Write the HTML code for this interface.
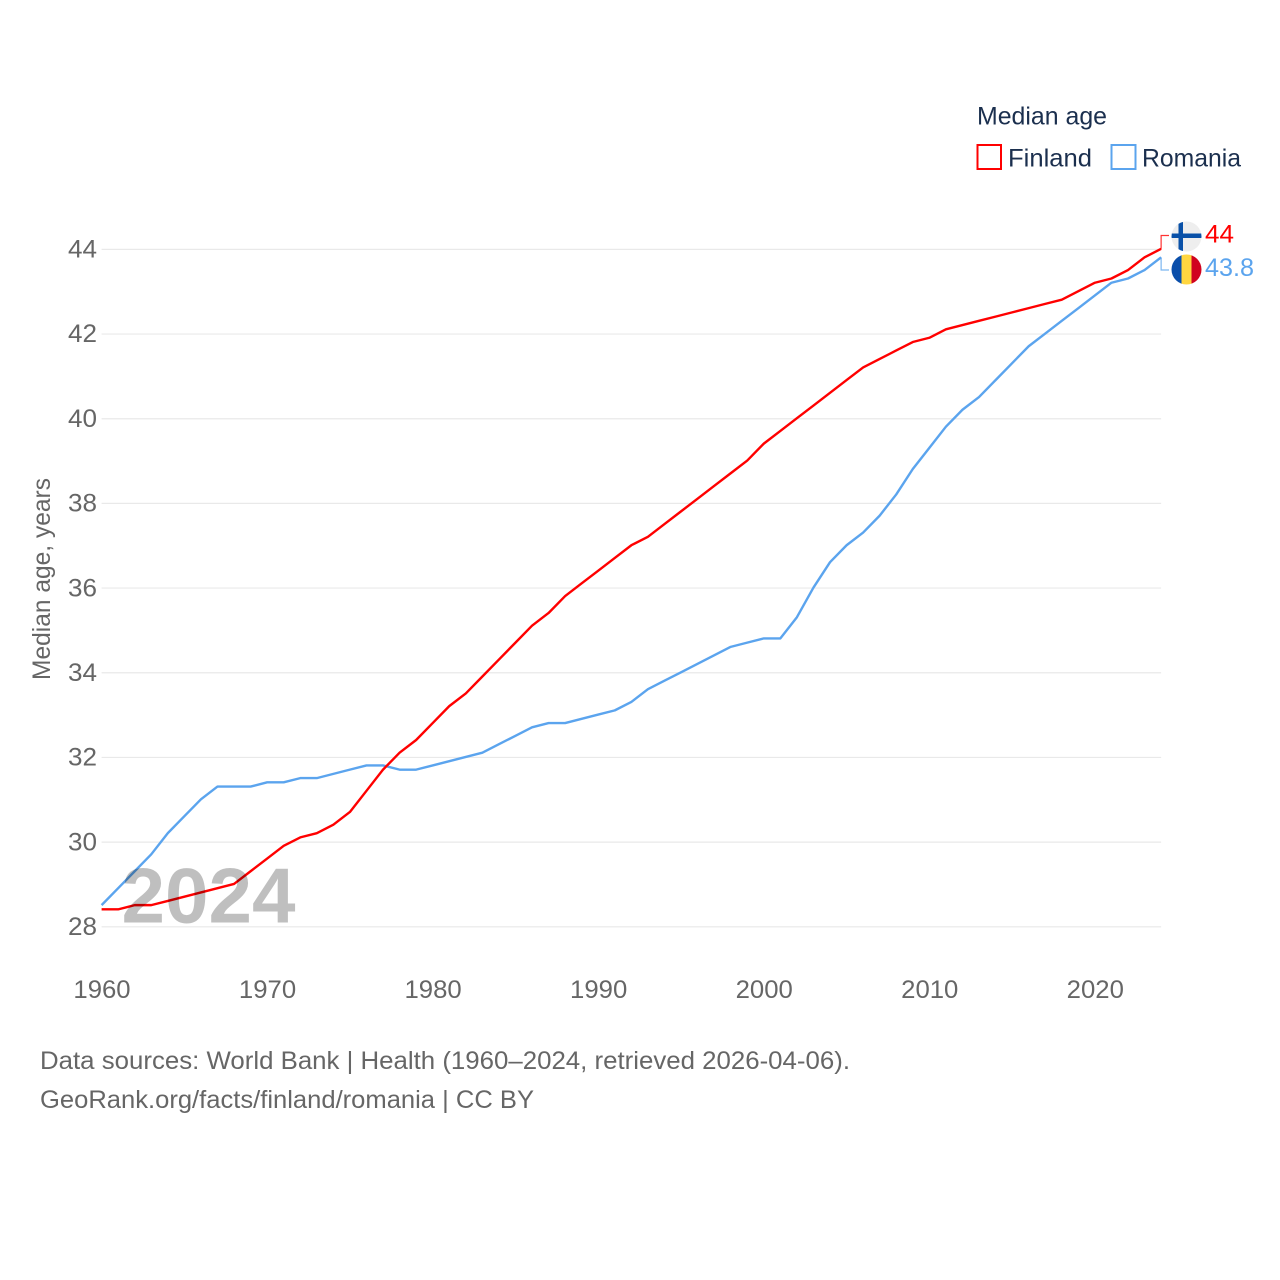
<!DOCTYPE html>
<html lang="en">
<head>
<meta charset="utf-8">
<title>Median age: Finland vs Romania</title>
<style>
html,body{margin:0;padding:0;background:#fff;}
svg{display:block;}
text{font-family:"Liberation Sans",sans-serif;}
</style>
</head>
<body>
<svg id="chart" xmlns="http://www.w3.org/2000/svg" width="1280" height="1280" viewBox="0 0 1280 1280">
  <rect x="0" y="0" width="1280" height="1280" fill="#fff"/>
  <g id="grid"></g>
  <g id="y-ticks"></g>
  <g id="x-ticks"></g>
  <text transform="translate(50,680) rotate(-90)" font-size="25" fill="#666" textLength="202" lengthAdjust="spacingAndGlyphs">Median age, years</text>
  <g id="series"></g>
  <text x="121.5" y="922.5" font-size="78" font-weight="700" fill="#000" fill-opacity="0.25" textLength="174" lengthAdjust="spacingAndGlyphs">2024</text>
  <g id="end-labels"></g>

  <defs>
    <clipPath id="clip-fi"><circle cx="1186.5" cy="236.5" r="15"/></clipPath>
    <clipPath id="clip-ro"><circle cx="1186.5" cy="269.5" r="15"/></clipPath>
  </defs>
  <g clip-path="url(#clip-fi)">
    <rect x="1171" y="221" width="31" height="31" fill="#eeeeee"/>
    <rect x="1178.5" y="221" width="4.5" height="31" fill="#0a51a8"/>
    <rect x="1171" y="233.5" width="31" height="4.5" fill="#0a51a8"/>
  </g>
  <g clip-path="url(#clip-ro)">
    <rect x="1171" y="254" width="11" height="31" fill="#0a4eaa"/>
    <rect x="1181.5" y="254" width="10" height="31" fill="#ffd640"/>
    <rect x="1191.5" y="254" width="11" height="31" fill="#d0021f"/>
  </g>

  <g>
    <text x="977" y="124.5" font-size="25" fill="#1b2f4e" textLength="130" lengthAdjust="spacingAndGlyphs">Median age</text>
    <g>
      <rect x="977.5" y="145" width="23.5" height="24" fill="#fff" stroke="#ff0000" stroke-width="2"/>
      <text x="1008" y="166.5" font-size="25" fill="#1b2f4e" textLength="84" lengthAdjust="spacingAndGlyphs">Finland</text>
    </g>
    <g>
      <rect x="1111.5" y="145" width="24" height="24" fill="#fff" stroke="#5ba4ee" stroke-width="2"/>
      <text x="1142" y="166.5" font-size="25" fill="#1b2f4e" textLength="99" lengthAdjust="spacingAndGlyphs">Romania</text>
    </g>
  </g>

  <g>
    <text x="40" y="1069" font-size="25" fill="#666" textLength="810" lengthAdjust="spacingAndGlyphs">Data sources: World Bank | Health (1960–2024, retrieved 2026-04-06).</text>
    <text x="40" y="1108" font-size="25" fill="#666" textLength="494" lengthAdjust="spacingAndGlyphs">GeoRank.org/facts/finland/romania | CC BY</text>
  </g>
</svg>

<script>
const years = [];
for (let yr = 1960; yr <= 2024; yr++) years.push(yr);
const yTickValues = [28, 30, 32, 34, 36, 38, 40, 42, 44];
const xTickValues = [1960, 1970, 1980, 1990, 2000, 2010, 2020];
const finlandValues = [28.4,28.4,28.5,28.5,28.6,28.7,28.8,28.9,29.0,29.3,29.6,29.9,30.1,30.2,30.4,30.7,31.2,31.7,32.1,32.4,32.8,33.2,33.5,33.9,34.3,34.7,35.1,35.4,35.8,36.1,36.4,36.7,37.0,37.2,37.5,37.8,38.1,38.4,38.7,39.0,39.4,39.7,40.0,40.3,40.6,40.9,41.2,41.4,41.6,41.8,41.9,42.1,42.2,42.3,42.4,42.5,42.6,42.7,42.8,43.0,43.2,43.3,43.5,43.8,44.0];
const romaniaValues = [28.5,28.9,29.3,29.7,30.2,30.6,31.0,31.3,31.3,31.3,31.4,31.4,31.5,31.5,31.6,31.7,31.8,31.8,31.7,31.7,31.8,31.9,32.0,32.1,32.3,32.5,32.7,32.8,32.8,32.9,33.0,33.1,33.3,33.6,33.8,34.0,34.2,34.4,34.6,34.7,34.8,34.8,35.3,36.0,36.6,37.0,37.3,37.7,38.2,38.8,39.3,39.8,40.2,40.5,40.9,41.3,41.7,42.0,42.3,42.6,42.9,43.2,43.3,43.5,43.8];

const SVGNS = 'http://www.w3.org/2000/svg';
const xScale = yr => 101.6 + (yr - 1960) * 16.555;
const yScale = v => 926.3 - (v - 28) * 42.34;
const FIN = '#ff0000';
const ROU = '#5ba4ee';

function mk(tag, attrs, parent) {
  const el = document.createElementNS(SVGNS, tag);
  for (const k in attrs) el.setAttribute(k, attrs[k]);
  parent.appendChild(el);
  return el;
}
function linePath(vals) {
  return vals.map((v, i) => (i ? 'L' : 'M') + xScale(years[i]).toFixed(2) + ' ' + yScale(v).toFixed(2)).join(' ');
}

const grid = document.getElementById('grid');
const yTicks = document.getElementById('y-ticks');
const xTicks = document.getElementById('x-ticks');
const series = document.getElementById('series');
const endLabels = document.getElementById('end-labels');

yTickValues.forEach(v => {
  const gl = mk('line', {x1: xScale(1960), x2: xScale(2024), y1: yScale(v) + 0.5, y2: yScale(v) + 0.5, stroke: '#e9e9e9', 'stroke-width': 1.2}, grid);
  
  
  const t = mk('text', {x: 68, y: yScale(v) + 8.7, 'font-size': 25, fill: '#666', textLength: String(v).length * 14.5, lengthAdjust: 'spacingAndGlyphs'}, yTicks);
  t.textContent = v;
  
  
});

xTickValues.forEach(yr => {
  const t = mk('text', {x: xScale(yr) + 0.4, y: 998, 'font-size': 25, fill: '#666', 'text-anchor': 'middle', textLength: String(yr).length * 14.3, lengthAdjust: 'spacingAndGlyphs'}, xTicks);
  t.textContent = yr;
  
  
});

const romaniaLine = mk('path', {d: linePath(romaniaValues), fill: 'none', stroke: ROU, 'stroke-width': 2.4, 'stroke-linejoin': 'round'}, series);


const finlandLine = mk('path', {d: linePath(finlandValues), fill: 'none', stroke: FIN, 'stroke-width': 2.4, 'stroke-linejoin': 'round'}, series);



const lastYear = years[years.length - 1];
const finLast = finlandValues[finlandValues.length - 1];
const rouLast = romaniaValues[romaniaValues.length - 1];

const finConn = mk('polyline', {points: xScale(lastYear) + ',' + yScale(finLast) + ' ' + xScale(lastYear) + ',235.5 1169,235.5', fill: 'none', stroke: FIN, 'stroke-width': 1.2, 'stroke-opacity': 0.8}, endLabels);


const rouConn = mk('polyline', {points: xScale(lastYear) + ',' + yScale(rouLast) + ' ' + xScale(lastYear) + ',270 1169,270', fill: 'none', stroke: ROU, 'stroke-width': 1.2, 'stroke-opacity': 0.8}, endLabels);



const finVal = mk('text', {x: 1205, y: 242.5, 'font-size': 25, fill: FIN, textLength: 29, lengthAdjust: 'spacingAndGlyphs'}, endLabels);
finVal.textContent = finLast;


const rouVal = mk('text', {x: 1205, y: 276, 'font-size': 25, fill: ROU, textLength: 49, lengthAdjust: 'spacingAndGlyphs'}, endLabels);
rouVal.textContent = rouLast;


</script>
</body>
</html>
